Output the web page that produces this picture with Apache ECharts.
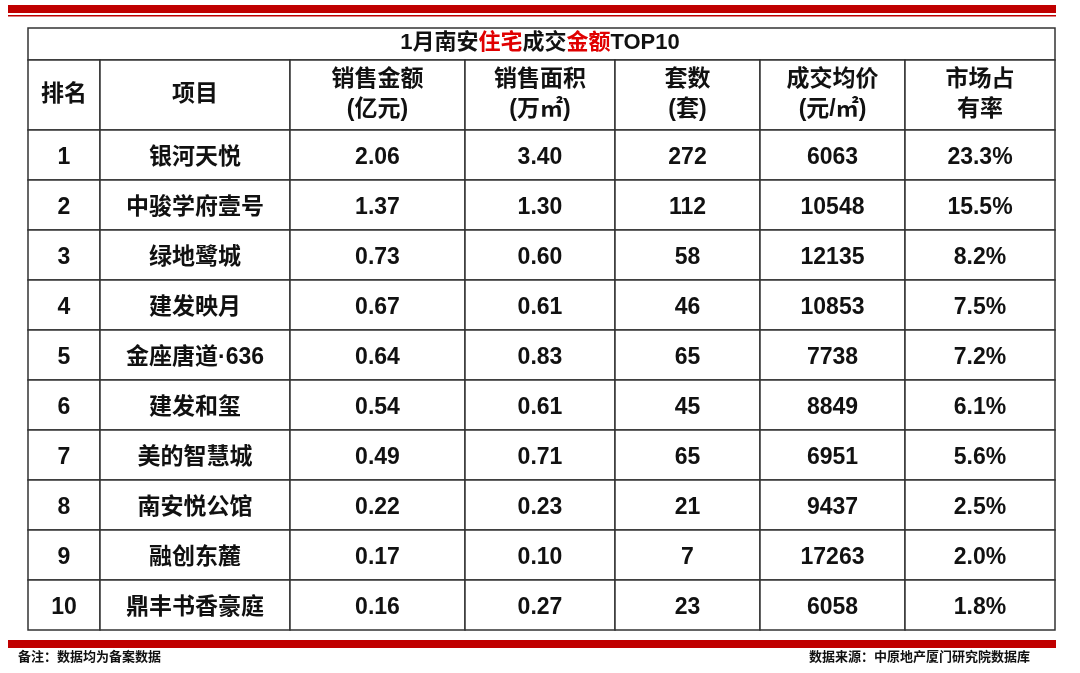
<!DOCTYPE html><html><head><meta charset="utf-8">
<script src="https://cdn.jsdelivr.net/npm/echarts@6/dist/echarts.min.js"></script>
<style>html,body{margin:0;padding:0;background:#fff}#c{width:1080px;height:673px}</style></head><body><div id="c"></div>
<script>
const headers=['排名','项目','销售金额\n(亿元)','销售面积\n(万㎡)','套数\n(套)','成交均价\n(元/㎡)','市场占\n有率'];
const ranks=['1','2','3','4','5','6','7','8','9','10'];
const projects=['银河天悦','中骏学府壹号','绿地鹭城','建发映月','金座唐道·636','建发和玺','美的智慧城','南安悦公馆','融创东麓','鼎丰书香豪庭'];
const amounts=['2.06','1.37','0.73','0.67','0.64','0.54','0.49','0.22','0.17','0.16'];
const areas=['3.40','1.30','0.60','0.61','0.83','0.61','0.71','0.23','0.10','0.27'];
const units=['272','112','58','46','65','45','65','21','7','23'];
const prices=['6063','10548','12135','10853','7738','8849','6951','9437','17263','6058'];
const shares=['23.3%','15.5%','8.2%','7.5%','7.2%','6.1%','5.6%','2.5%','2.0%','1.8%'];

const colEdges=[0,72,262,437,587,732,877,1027];
const rowEdges=[0,70,120,170,220,270,320,370,420,470,520,570];
const cols=[ranks,projects,amounts,areas,units,prices,shares];
const data=[];
headers.forEach((h,c)=>data.push([c,0,h]));
cols.forEach((arr,c)=>arr.forEach((v,r)=>data.push([c,r+1,v])));
const F='"Liberation Sans","Noto Sans CJK SC",sans-serif';
const chart=echarts.init(document.getElementById('c'));
chart.setOption({
 animation:false,
 grid:{left:28,right:25,top:60,bottom:43},
 xAxis:{type:'value',min:0,max:1027,show:false},
 yAxis:{type:'value',min:0,max:570,inverse:true,show:false},
 title:{text:'1月南安{r|住宅}成交{r|金额}TOP10',left:'center',top:27,
  textStyle:{fontFamily:F,fontSize:22,fontWeight:'bold',color:'#111',rich:{r:{color:'#e00000',fontSize:22,fontWeight:'bold',fontFamily:F}}}},
 graphic:[
  {type:'rect',shape:{x:8,y:5,width:1048,height:8},style:{fill:'#c00000'}},
  {type:'rect',shape:{x:8,y:15,width:1048,height:1.5},style:{fill:'#c00000'}},
  {type:'rect',shape:{x:28,y:28,width:1027,height:32},style:{fill:'none',stroke:'#333',lineWidth:1.5}},
  {type:'rect',shape:{x:8,y:640,width:1048,height:8},style:{fill:'#c00000'}},
  {type:'text',left:18,top:651,style:{text:'备注：数据均为备案数据',font:'bold 13px '+F,fill:'#111'}},
  {type:'text',right:50,top:651,style:{text:'数据来源：中原地产厦门研究院数据库',font:'bold 13px '+F,fill:'#111'}}
 ],
 series:[{type:'custom',data:data,renderItem:(p,api)=>{
   const c=api.value(0),r=api.value(1),t=data[p.dataIndex][2];
   const a=api.coord([colEdges[c],rowEdges[r]]),b=api.coord([colEdges[c+1],rowEdges[r+1]]);
   return {type:'group',children:[
    {type:'rect',shape:{x:a[0],y:a[1],width:b[0]-a[0],height:b[1]-a[1]},style:{fill:'#fff',stroke:'#333',lineWidth:1.5}},
    {type:'text',style:{text:t,x:(a[0]+b[0])/2,y:(a[1]+b[1])/2+(r>0?3:0),align:'center',verticalAlign:'middle',
      font:'bold 23px '+F,fill:'#111',lineHeight:30}}
   ]};
 }}]
});
</script></body></html>
